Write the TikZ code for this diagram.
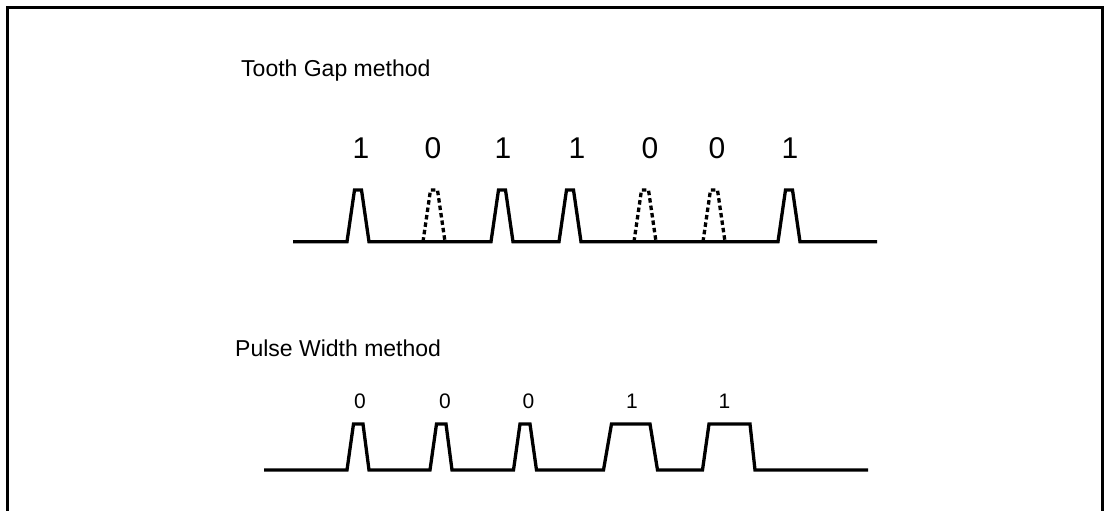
\documentclass[tikz,border=0pt]{standalone}
\usepackage{fontspec}
\setmainfont{Liberation Sans}
\begin{document}
\begin{tikzpicture}[x=1pt,y=-1pt,
  wave/.style={line width=3.3pt},
  ghost/.style={line width=3.3pt, dash pattern=on 4.5pt off 3pt},
  heading/.style={anchor=base west, inner sep=0pt, font=\fontsize{23}{27}\selectfont},
  bigbit/.style={anchor=base, inner sep=0pt, font=\fontsize{30}{34}\selectfont},
  smallbit/.style={anchor=base, inner sep=0pt, font=\fontsize{21}{25}\selectfont}]
\useasboundingbox (0,0) rectangle (1104,511);
% frame
\draw[line width=3.3pt] (7.5,512) -- (7.5,7.5) -- (1103,7.5) -- (1103,512);
% headings
\node[heading] (tg) at (241,76.7) {Tooth Gap method};
\node[heading] (pw) at (235,356.7) {Pulse Width method};
% top bits
\node[bigbit] (b1) at (361,158.3) {1};
\node[bigbit] (b2) at (433,158.3) {0};
\node[bigbit] (b3) at (503,158.3) {1};
\node[bigbit] (b4) at (577,158.3) {1};
\node[bigbit] (b5) at (650,158.3) {0};
\node[bigbit] (b6) at (717,158.3) {0};
\node[bigbit] (b7) at (790,158.3) {1};
% top waveform
\draw[wave] (293,241.7) -- (347,241.7) -- (354.5,190) -- (361.5,190) -- (369,241.7)
  -- (491,241.7) -- (498.5,190) -- (505.5,190) -- (513,241.7)
  -- (559,241.7) -- (566.5,190) -- (573.5,190) -- (581,241.7)
  -- (778,241.7) -- (785.5,190) -- (792.5,190) -- (800,241.7) -- (877,241.7);
\foreach \c in {434,645,714}
  \draw[ghost] (\c-11,241.7) -- (\c-3.5,190) -- (\c+3.5,190) -- (\c+11,241.7);
% bottom bits
\node[smallbit] (c1) at (360,408.3) {0};
\node[smallbit] (c2) at (445,408.3) {0};
\node[smallbit] (c3) at (528.5,408.3) {0};
\node[smallbit] (c4) at (632,408.3) {1};
\node[smallbit] (c5) at (724.5,408.3) {1};
% bottom waveform
\draw[wave] (264,470) -- (347,470) -- (353.5,424) -- (363,424) -- (369,470)
  -- (430,470) -- (436.5,424) -- (446,424) -- (452,470)
  -- (513.5,470) -- (520,424) -- (530,424) -- (536.5,470)
  -- (603.5,470) -- (611.5,424) -- (650,424) -- (657.5,470)
  -- (702.5,470) -- (709,424) -- (750,424) -- (755,470) -- (868,470);
\end{tikzpicture}
\end{document}
